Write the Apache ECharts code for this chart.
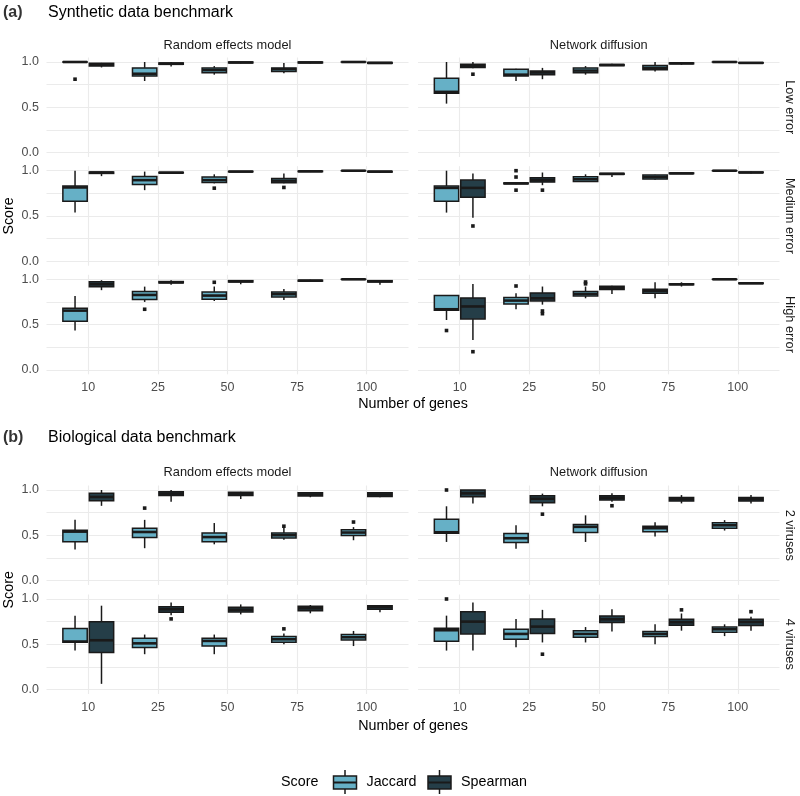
<!DOCTYPE html>
<html><head><meta charset="utf-8">
<script src="https://cdn.jsdelivr.net/npm/echarts@6/dist/echarts.min.js"></script>
<style>html,body{margin:0;padding:0;background:#fff}#c{width:800px;height:796px}</style>
</head><body><div id="c"></div>
<script>
// ---------- data ----------
const genes = ['10', '25', '50', '75', '100'];
const methods = ['Random effects model', 'Network diffusion'];
const synthRows = ['Low error', 'Medium error', 'High error'];
const bioRows = ['2 viruses', '4 viruses'];
const yTicks = [0, 0.5, 1];
const yGrid = [0, 0.25, 0.5, 0.75, 1];
const scores = ['Jaccard', 'Spearman'];
// five-number summaries: [min, q1, median, q3, max] per gene count; outliers listed separately

// (a) Synthetic – Random effects model
const reLowJac = [[0.99,1,1,1,1],[0.79,0.845,0.87,0.935,1],[0.86,0.88,0.91,0.935,0.955],[0.875,0.895,0.92,0.935,0.99],[0.995,1,1,1,1]];
const reLowJacOut = [[0.81],[],[],[],[]];
const reLowSpe = [[0.94,0.955,0.97,0.985,0.99],[0.95,0.975,0.98,0.99,1],[0.985,0.99,0.995,1,1],[0.985,0.99,0.995,1,1],[0.98,0.985,0.99,0.995,1]];
const reLowSpeOut = [[],[],[],[],[]];
const reMedJac = [[0.537,0.663,0.815,0.83,1],[0.785,0.848,0.896,0.937,0.99],[0.86,0.87,0.896,0.93,0.96],[0.86,0.867,0.89,0.915,0.97],[0.995,1,1,1,1]];
const reMedJacOut = [[],[],[0.807],[0.815],[]];
const reMedSpe = [[0.94,0.97,0.98,0.985,0.99],[0.97,0.975,0.978,0.982,0.985],[0.985,0.988,0.99,0.993,0.995],[0.985,0.99,0.993,0.996,1],[0.975,0.985,0.99,0.993,0.995]];
const reMedSpeOut = [[],[],[],[],[]];
const reHighJac = [[0.434,0.537,0.654,0.68,0.816],[0.75,0.776,0.827,0.864,0.919],[0.76,0.78,0.82,0.86,0.92],[0.772,0.805,0.835,0.86,0.893],[0.995,1,1,1,1]];
const reHighJacOut = [[],[0.669],[0.967],[],[]];
const reHighSpe = [[0.88,0.919,0.945,0.974,0.99],[0.94,0.96,0.967,0.975,0.99],[0.945,0.97,0.978,0.985,0.99],[0.975,0.98,0.985,0.99,0.995],[0.94,0.97,0.978,0.985,0.99]];
const reHighSpeOut = [[],[],[],[],[]];

// (a) Synthetic – Network diffusion
const ndLowJac = [[0.54,0.655,0.67,0.82,1],[0.79,0.845,0.86,0.92,0.925],[0.86,0.88,0.905,0.935,0.955],[0.895,0.915,0.935,0.96,1],[0.995,1,1,1,1]];
const ndLowJacOut = [[],[],[],[],[]];
const ndLowSpe = [[0.93,0.94,0.96,0.975,1],[0.81,0.86,0.885,0.9,0.935],[0.955,0.96,0.967,0.972,0.98],[0.97,0.98,0.985,0.99,0.995],[0.985,0.988,0.99,0.993,0.995]];
const ndLowSpeOut = [[0.865],[],[],[],[]];
const ndMedJac = [[0.537,0.663,0.81,0.83,1],[0.85,0.855,0.86,0.865,0.87],[0.88,0.881,0.905,0.933,0.96],[0.9,0.907,0.93,0.952,0.955],[0.995,1,1,1,1]];
const ndMedJacOut = [[],[1.0,0.93,0.785],[],[],[]];
const ndMedSpe = [[0.48,0.707,0.81,0.896,0.97],[0.84,0.874,0.896,0.922,0.98],[0.93,0.96,0.965,0.97,0.975],[0.965,0.968,0.97,0.975,0.98],[0.97,0.978,0.98,0.985,0.99]];
const ndMedSpeOut = [[0.389],[0.785],[],[],[]];
const ndHighJac = [[0.55,0.658,0.669,0.82,0.82],[0.67,0.728,0.765,0.798,0.846],[0.79,0.816,0.838,0.864,0.92],[0.79,0.846,0.868,0.89,0.967],[0.995,1,1,1,1]];
const ndHighJacOut = [[0.434],[0.926],[0.97,0.95],[],[]];
const ndHighSpe = [[0.33,0.5625,0.7,0.794,0.949],[0.72,0.761,0.79,0.849,0.92],[0.838,0.886,0.904,0.923,0.93],[0.92,0.94,0.945,0.95,0.967],[0.95,0.953,0.956,0.96,0.963]];
const ndHighSpeOut = [[0.2],[0.65,0.62],[],[],[]];

// (b) Biological – Random effects model
const re2vJac = [[0.343,0.427,0.54,0.555,0.67],[0.357,0.474,0.536,0.577,0.67],[0.4,0.427,0.48,0.526,0.635],[0.45,0.47,0.5,0.526,0.58],[0.445,0.496,0.53,0.562,0.59]];
const re2vJacOut = [[],[0.8],[],[0.6],[0.646]];
const re2vSpe = [[0.825,0.88,0.923,0.964,1],[0.87,0.94,0.96,0.98,1],[0.9,0.94,0.96,0.975,0.98],[0.92,0.934,0.95,0.97,0.975],[0.92,0.927,0.95,0.97,0.975]];
const re2vSpeOut = [[],[],[],[],[]];
const re4vJac = [[0.43,0.522,0.53,0.673,0.816],[0.39,0.463,0.51,0.566,0.607],[0.39,0.48,0.537,0.566,0.607],[0.5,0.522,0.555,0.585,0.62],[0.48,0.548,0.577,0.607,0.647]];
const re4vJacOut = [[],[],[],[0.67],[]];
const re4vSpe = [[0.0625,0.408,0.544,0.75,0.926],[0.82,0.853,0.886,0.915,0.96],[0.83,0.857,0.882,0.908,0.94],[0.842,0.87,0.897,0.92,0.934],[0.853,0.886,0.912,0.926,0.93]];
const re4vSpeOut = [[],[0.78],[],[],[]];

// (b) Biological – Network diffusion
const nd2vJac = [[0.426,0.522,0.533,0.678,0.82],[0.35,0.42,0.467,0.52,0.61],[0.426,0.53,0.593,0.618,0.72],[0.485,0.54,0.578,0.6,0.644],[0.552,0.578,0.61,0.637,0.667]];
const nd2vJacOut = [[1.0],[],[],[],[]];
const nd2vSpe = [[0.852,0.926,0.963,1,1],[0.82,0.86,0.904,0.937,0.96],[0.87,0.889,0.915,0.937,0.963],[0.852,0.878,0.9,0.918,0.944],[0.85,0.878,0.9,0.918,0.944]];
const nd2vSpeOut = [[],[0.733],[0.826],[],[]];
const nd4vJac = [[0.43,0.533,0.655,0.676,0.816],[0.467,0.555,0.614,0.665,0.78],[0.52,0.577,0.614,0.65,0.69],[0.5,0.585,0.614,0.64,0.72],[0.59,0.632,0.665,0.69,0.72]];
const nd4vJacOut = [[1.0],[],[],[],[]];
const nd4vSpe = [[0.43,0.614,0.75,0.86,0.96],[0.52,0.62,0.695,0.78,0.88],[0.64,0.739,0.776,0.812,0.886],[0.65,0.71,0.743,0.776,0.84],[0.65,0.706,0.746,0.776,0.805]];
const nd4vSpeOut = [[],[0.39],[],[0.88],[0.86]];

// ---------- layout & style ----------
const FONT = 'Liberation Sans, Arial, Helvetica, sans-serif';
const JAC_FILL = '#66b0c6';
const SPE_FILL = '#253e48';
const EDGE = '#1a1a1a';
const GRID_C = '#ebebeb';
const PX = 90.5;                 // pixels per score unit
const colLeft = [46.5, 418];
const colWidth = [362, 361.5];
const BOX_W = 0.35;
const DODGE = 0.19;

const facets = [
  // panel (a)
  {col:0, y1:62,    last:false, J:reLowJac,  JO:reLowJacOut,  S:reLowSpe,  SO:reLowSpeOut},
  {col:1, y1:62,    last:false, J:ndLowJac,  JO:ndLowJacOut,  S:ndLowSpe,  SO:ndLowSpeOut, strip:synthRows[0]},
  {col:0, y1:170.7, last:false, J:reMedJac,  JO:reMedJacOut,  S:reMedSpe,  SO:reMedSpeOut},
  {col:1, y1:170.7, last:false, J:ndMedJac,  JO:ndMedJacOut,  S:ndMedSpe,  SO:ndMedSpeOut, strip:synthRows[1]},
  {col:0, y1:279.3, last:true,  J:reHighJac, JO:reHighJacOut, S:reHighSpe, SO:reHighSpeOut},
  {col:1, y1:279.3, last:true,  J:ndHighJac, JO:ndHighJacOut, S:ndHighSpe, SO:ndHighSpeOut, strip:synthRows[2]},
  // panel (b)
  {col:0, y1:490,   last:false, J:re2vJac, JO:re2vJacOut, S:re2vSpe, SO:re2vSpeOut},
  {col:1, y1:490,   last:false, J:nd2vJac, JO:nd2vJacOut, S:nd2vSpe, SO:nd2vSpeOut, strip:bioRows[0]},
  {col:0, y1:599,   last:true,  J:re4vJac, JO:re4vJacOut, S:re4vSpe, SO:re4vSpeOut},
  {col:1, y1:599,   last:true,  J:nd4vJac, JO:nd4vJacOut, S:nd4vSpe, SO:nd4vSpeOut, strip:bioRows[1]}
];

function makeRender(off, fill, outliers) {
  return function (params, api) {
    const cx = api.value(0) + off;
    const lo = api.coord([cx, api.value(1)]);
    const q1 = api.coord([cx, api.value(2)]);
    const md = api.coord([cx, api.value(3)]);
    const q3 = api.coord([cx, api.value(4)]);
    const hi = api.coord([cx, api.value(5)]);
    const w = api.size([BOX_W, 0])[0];
    const ls = {stroke: EDGE, lineWidth: 1.5};
    const ch = [
      {type:'line', shape:{x1:lo[0], y1:lo[1], x2:q1[0], y2:q1[1]}, style:ls},
      {type:'line', shape:{x1:q3[0], y1:q3[1], x2:hi[0], y2:hi[1]}, style:ls},
      {type:'rect', shape:{x:q3[0]-w/2, y:q3[1], width:w, height:Math.max(q1[1]-q3[1], 0.01)}, style:{fill:fill, stroke:EDGE, lineWidth:1.5}},
      {type:'line', shape:{x1:md[0]-w/2, y1:md[1], x2:md[0]+w/2, y2:md[1]}, style:{stroke:EDGE, lineWidth:2.6}}
    ];
    (outliers[params.dataIndex] || []).forEach(function (v) {
      const p = api.coord([cx, v]);
      ch.push({type:'rect', shape:{x:p[0]-1.8, y:p[1]-1.8, width:3.6, height:3.6}, style:{fill:EDGE}});
    });
    return {type:'group', children: ch};
  };
}

const grids = [], xAxes = [], yAxes = [], series = [];
facets.forEach(function (f, i) {
  grids.push({left: colLeft[f.col], width: colWidth[f.col], top: f.y1 - 0.05*PX, height: 1.1*PX});
  xAxes.push({
    gridIndex: i, type: 'value', min: 0.4, max: 5.6,
    axisLine: {show: false},
    axisTick: {show: false, customValues: [1,2,3,4,5]},
    axisLabel: {show: f.last, customValues: [1,2,3,4,5], margin: 7,
      formatter: function (v) { return genes[Math.round(v) - 1]; },
      color: '#4d4d4d', fontSize: 12.5, fontFamily: FONT},
    splitLine: {show: true, lineStyle: {color: GRID_C, width: 1.1}}
  });
  yAxes.push({
    gridIndex: i, type: 'value', min: -0.05, max: 1.05,
    axisLine: {show: false},
    axisTick: {show: false, customValues: yGrid},
    axisLabel: {show: f.col === 0, customValues: yTicks, margin: 7.5,
      formatter: function (v) { return v.toFixed(1); },
      color: '#4d4d4d', fontSize: 12.5, fontFamily: FONT},
    splitLine: {show: true, lineStyle: {color: GRID_C, width: 1.1}}
  });
  [[f.J, f.JO, -DODGE, JAC_FILL, scores[0]], [f.S, f.SO, DODGE, SPE_FILL, scores[1]]].forEach(function (s) {
    series.push({
      type: 'custom', name: s[4], xAxisIndex: i, yAxisIndex: i,
      renderItem: makeRender(s[2], s[3], s[1]),
      encode: {x: 0, y: [1,2,3,4,5]},
      data: s[0].map(function (b, k) { return [k + 1].concat(b); }),
      clip: false, silent: true
    });
  });
});

// ---------- text annotations ----------
const g = [];
function txt(x, y, text, o) {
  o = o || {};
  g.push({type:'text', x:x, y:y, rotation: o.rot || 0, silent: true,
    style:{text:text, fill:o.color || '#000', font:(o.weight || 'normal') + ' ' + (o.size || 14) + 'px ' + FONT,
      textAlign:o.align || 'left', textVerticalAlign:'middle'}});
}
const colCenter = [colLeft[0] + colWidth[0]/2, colLeft[1] + colWidth[1]/2];
const fullCenter = (colLeft[0] + colLeft[1] + colWidth[1]) / 2;
// panel (a)
txt(3, 13, '(a)', {weight:'bold', size:16, color:'#333'});
txt(48, 12.5, 'Synthetic data benchmark', {size:16});
txt(colCenter[0], 45, methods[0], {size:12.8, color:'#1a1a1a', align:'center'});
txt(colCenter[1], 45, methods[1], {size:12.8, color:'#1a1a1a', align:'center'});
txt(fullCenter, 404, 'Number of genes', {size:14.3, align:'center'});
txt(9, (62 - 0.05*PX + 279.3 + 1.05*PX) / 2, 'Score', {size:14.3, align:'center', rot:Math.PI/2});
// panel (b)
txt(3, 438, '(b)', {weight:'bold', size:16, color:'#333'});
txt(48, 437.5, 'Biological data benchmark', {size:16});
txt(colCenter[0], 472, methods[0], {size:12.8, color:'#1a1a1a', align:'center'});
txt(colCenter[1], 472, methods[1], {size:12.8, color:'#1a1a1a', align:'center'});
txt(fullCenter, 726, 'Number of genes', {size:14.3, align:'center'});
txt(9, (490 - 0.05*PX + 599 + 1.05*PX) / 2, 'Score', {size:14.3, align:'center', rot:Math.PI/2});
// row strips
facets.forEach(function (f) {
  if (f.strip) txt(790, f.y1 + 0.5*PX, f.strip, {size:12.8, color:'#1a1a1a', align:'center', rot:-Math.PI/2});
});
// legend
txt(281, 782, 'Score', {size:14.3});
function legendKey(x, fill) {
  g.push({type:'line', silent:true, shape:{x1:x+11.5, y1:770, x2:x+11.5, y2:794}, style:{stroke:EDGE, lineWidth:1.5}});
  g.push({type:'rect', silent:true, shape:{x:x, y:776, width:23, height:13}, style:{fill:fill, stroke:EDGE, lineWidth:1.5}});
  g.push({type:'line', silent:true, shape:{x1:x, y1:782.5, x2:x+23, y2:782.5}, style:{stroke:EDGE, lineWidth:2}});
}
legendKey(333.5, JAC_FILL);
txt(366.5, 782, scores[0], {size:14.3});
legendKey(428, SPE_FILL);
txt(461, 782, scores[1], {size:14.3});

const chart = echarts.init(document.getElementById('c'), null, {renderer: 'canvas'});
chart.setOption({
  animation: false,
  backgroundColor: '#fff',
  grid: grids, xAxis: xAxes, yAxis: yAxes, series: series,
  graphic: g
});
</script></body></html>
